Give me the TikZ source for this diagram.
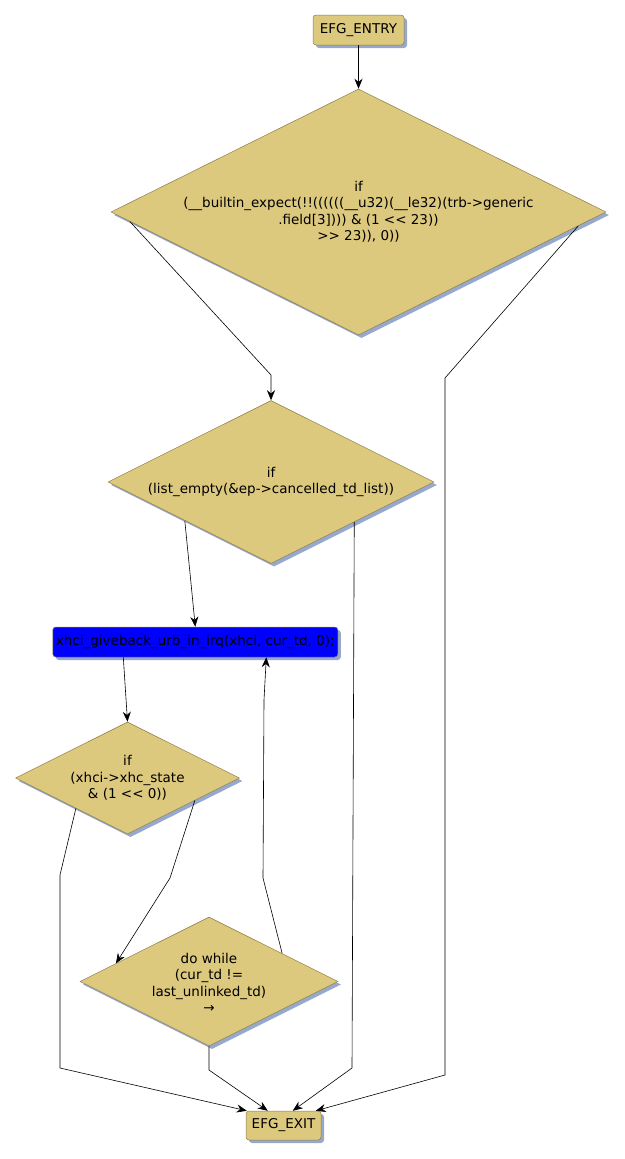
\documentclass[tikz,border=0pt]{standalone}
\usepackage{fontspec}
\setmainfont{DejaVu Sans}
\usetikzlibrary{shapes.geometric,arrows.meta,calc,shadows}
\definecolor{nodetan}{RGB}{220,201,126}
\definecolor{nodeborder}{RGB}{140,124,70}
\definecolor{shadowblue}{RGB}{150,168,205}
\definecolor{pureblue}{RGB}{0,0,255}
\newcommand{\LL}{<\kern0pt<}
\newcommand{\GG}{>\kern0pt>}
\begin{document}
\begin{tikzpicture}[x=1pt,y=-1pt,
  shd/.style={drop shadow={shadow xshift=3pt,shadow yshift=-3pt,fill=shadowblue,opacity=1}},
  dia/.style={diamond,draw=nodeborder,fill=nodetan,inner sep=0pt,line width=0.5pt,shd},
  boxnode/.style={rectangle,rounded corners=3pt,draw=nodeborder,fill=nodetan,line width=0.5pt,inner sep=0pt,shd},
  txt/.style={align=center,font=\fontsize{13.5}{16.5}\selectfont,inner sep=0pt},
  conn/.style={-{Stealth[length=10pt,width=8pt]},line width=0.6pt,black}]
\useasboundingbox (0,0) rectangle (624,1159);

\node[boxnode,minimum width=91pt,minimum height=30pt] (entry) at (358.5,30) {};
\node[txt] at (entry) {EFG\_ENTRY};

\node[dia,minimum width=495pt,minimum height=246pt] (d1) at (358.5,212) {};
\node[txt] at (d1) {if\\(\_\_builtin\_expect(!!((((((\_\_u32)(\_\_le32)(trb->generic\\.field[3]))) \& (1 \LL{} 23))\\\GG{} 23)), 0))};

\node[dia,minimum width=326pt,minimum height=163pt] (d2) at (271,482) {};
\node[txt] at (d2) {if\\(list\_empty(\&ep->cancelled\_td\_list))};

\node[boxnode,fill=pureblue,minimum width=285pt,minimum height=30pt] (blue) at (195.3,642) {};
\node[txt] at (blue) {xhci\_giveback\_urb\_in\_irq(xhci, cur\_td, 0);};

\node[dia,minimum width=224pt,minimum height=112pt] (d3) at (127.5,778) {};
\node[txt] at (d3) {if\\(xhci->xhc\_state\\\& (1 \LL{} 0))};

\node[dia,minimum width=258pt,minimum height=129pt] (d4) at (209,981.5) {};
\node[txt] at (209,983) {do while\\(cur\_td !=\\last\_unlinked\_td)\\→};

\node[boxnode,minimum width=75pt,minimum height=29pt] (exit) at (283.5,1125.5) {};
\node[txt] at (exit) {EFG\_EXIT};

\draw[conn] (entry.south) -- (d1.north);
\draw[conn] ($(d1.west)!0.077!(d1.south)$) -- (271,375) -- (d2.north);
\draw[conn] ($(d1.east)!0.113!(d1.south)$) -- (445,378) -- (445,1075) -- ($(exit.north west)+(70,0)$);
\draw[conn] ($(d2.west)!0.472!(d2.south)$) -- (blue.north);
\draw[conn] ($(d2.east)!0.49!(d2.south)$) -- (352,1068) -- ($(exit.north west)+(47,0)$);
\draw[conn] ($(blue.south)+(-72,0)$) -- (d3.north);
\draw[conn] ($(d3.west)!0.54!(d3.south)$) -- (60,875) -- (60,1068) -- ($(exit.north west)+(1,0)$);
\draw[conn] ($(d3.east)!0.4!(d3.south)$) -- (170,878) -- ($(d4.west)!0.28!(d4.north)$);
\draw[conn] ($(d4.north)!0.566!(d4.east)$) -- (263,878) -- (264,700) -- ($(blue.south)+(71,0)$);
\draw[conn] (d4.south) -- (209,1070) -- ($(exit.north west)+(22,0)$);
\end{tikzpicture}
\end{document}
